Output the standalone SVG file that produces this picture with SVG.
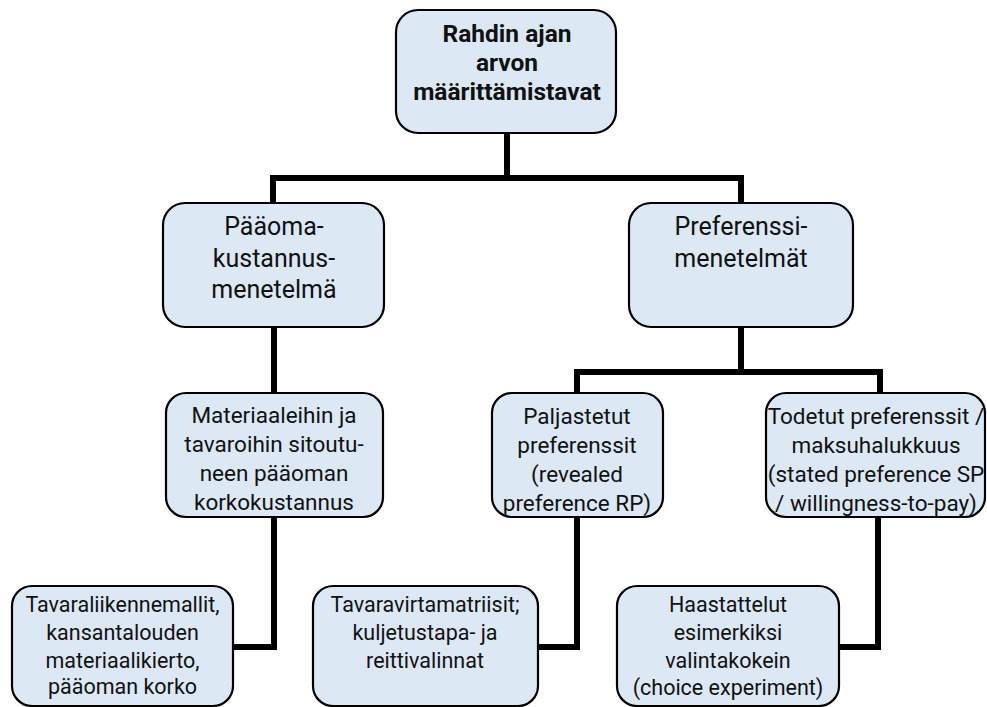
<svg xmlns="http://www.w3.org/2000/svg" width="987" height="707" viewBox="0 0 987 707">
<style>
.box{fill:#dde8f5;stroke:#000;stroke-width:2.2}
.con{fill:none;stroke:#000;stroke-width:6;stroke-linejoin:miter}
text{font-family:Roboto,"Liberation Sans",sans-serif;fill:#111;text-anchor:middle}
.t1{font-size:24.5px;font-weight:bold}
.t2{font-size:25px}
.t3{font-size:22.5px}
.t4{font-size:21.5px}
</style>
<defs>
<clipPath id="cpPal"><rect x="492" y="393" width="171" height="123" rx="20"/></clipPath>
<clipPath id="cpTod"><rect x="766" y="393" width="219" height="123" rx="20"/></clipPath>
<clipPath id="cpHaa"><rect x="617" y="586" width="222" height="120" rx="20"/></clipPath>
</defs>
<rect width="987" height="707" fill="#fff"/>
<g id="connectors">
<path class="con" d="M507,133 V178"/>
<path class="con" d="M273,203 V178 H741 V203"/>
<path class="con" d="M274,327 V393"/>
<path class="con" d="M741,327 V372"/>
<path class="con" d="M577,393 V372 H880 V393"/>
<path class="con" d="M274,517 V647 H233"/>
<path class="con" d="M577,517 V647 H538"/>
<path class="con" d="M878,517 V647 H839"/>
</g>
<g id="n-root">
<rect class="box" x="396" y="10" width="220" height="123" rx="22"/>
<text class="t1" x="507" y="42">Rahdin ajan</text>
<text class="t1" x="507" y="71">arvon</text>
<text class="t1" x="507" y="100">määrittämistavat</text>
</g>
<g id="n-paaoma">
<rect class="box" x="163" y="203" width="221" height="124" rx="22"/>
<text class="t2" x="274" y="235">Pääoma-</text>
<text class="t2" x="274" y="266.5">kustannus-</text>
<text class="t2" x="274" y="298">menetelmä</text>
</g>
<g id="n-pref">
<rect class="box" x="629" y="203" width="224" height="124" rx="22"/>
<text class="t2" x="741" y="235">Preferenssi-</text>
<text class="t2" x="741" y="266.5">menetelmät</text>
</g>
<g id="n-materiaali">
<rect class="box" x="166" y="393" width="217" height="124" rx="20"/>
<text class="t3" x="274" y="423">Materiaaleihin ja</text>
<text class="t3" x="274" y="452">tavaroihin sitoutu-</text>
<text class="t3" x="274" y="481">neen pääoman</text>
<text class="t3" x="274" y="510">korkokustannus</text>
</g>
<g id="n-paljastetut">
<rect class="box" x="492" y="393" width="171" height="124" rx="20"/>
<g clip-path="url(#cpPal)">
<text class="t3" x="577" y="424">Paljastetut</text>
<text class="t3" x="577" y="453">preferenssit</text>
<text class="t3" x="577" y="482">(revealed</text>
<text class="t3" x="577" y="511">preference RP)</text>
</g>
</g>
<g id="n-todetut">
<rect class="box" x="766" y="393" width="219" height="124" rx="20"/>
<g clip-path="url(#cpTod)">
<text class="t3" x="876" y="424">Todetut preferenssit /</text>
<text class="t3" x="876" y="453">maksuhalukkuus</text>
<text class="t3" x="876" y="482">(stated preference SP</text>
<text class="t3" x="876" y="511">/ willingness-to-pay)</text>
</g>
</g>
<g id="n-tavaraliikenne">
<rect class="box" x="12" y="586" width="221" height="120" rx="20"/>
<text class="t4" x="122.5" y="612">Tavaraliikennemallit,</text>
<text class="t4" x="122.5" y="640">kansantalouden</text>
<text class="t4" x="122.5" y="668">materiaalikierto,</text>
<text class="t4" x="122.5" y="694">pääoman korko</text>
</g>
<g id="n-tavaravirta">
<rect class="box" x="313" y="586" width="225" height="120" rx="20"/>
<text class="t4" x="425" y="612">Tavaravirtamatriisit;</text>
<text class="t4" x="425" y="640">kuljetustapa- ja</text>
<text class="t4" x="425" y="668">reittivalinnat</text>
</g>
<g id="n-haastattelut">
<rect class="box" x="617" y="586" width="222" height="120" rx="20"/>
<g clip-path="url(#cpHaa)">
<text class="t4" x="728" y="612">Haastattelut</text>
<text class="t4" x="728" y="640">esimerkiksi</text>
<text class="t4" x="728" y="668">valintakokein</text>
<text class="t4" x="728" y="695">(choice experiment)</text>
</g>
</g>
</svg>
